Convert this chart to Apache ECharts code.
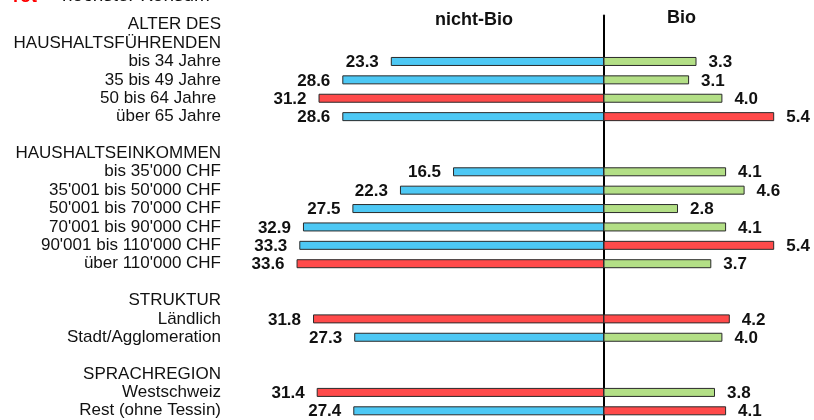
<!DOCTYPE html>
<html>
<head>
<meta charset="utf-8">
<script src="https://cdn.jsdelivr.net/npm/echarts@6/dist/echarts.min.js"></script>
<style>
  html, body { margin: 0; padding: 0; background: #fff; }
  #chart { width: 814px; height: 420px; }
</style>
</head>
<body>
<div id="chart"></div>
<script>
// Zeilen von oben nach unten (Überschriften und Leerzeilen ohne Werte)
const categories = [
  "ALTER DES", "HAUSHALTSFÜHRENDEN", "bis 34 Jahre", "35 bis 49 Jahre", "50 bis 64 Jahre ", "über 65 Jahre",
  "", "HAUSHALTSEINKOMMEN", "bis 35'000 CHF", "35'001 bis 50'000 CHF", "50'001 bis 70'000 CHF",
  "70'001 bis 90'000 CHF", "90'001 bis 110'000 CHF", "über 110'000 CHF",
  "", "STRUKTUR", "Ländlich", "Stadt/Agglomeration",
  "", "SPRACHREGION", "Westschweiz", "Rest (ohne Tessin)"
];
const nichtBio = [null, null, 23.3, 28.6, 31.2, 28.6, null, null, 16.5, 22.3, 27.5, 32.9, 33.3, 33.6,
  null, null, 31.8, 27.3, null, null, 31.4, 27.4];
const bio = [null, null, 3.3, 3.1, 4.0, 5.4, null, null, 4.1, 4.6, 2.8, 4.1, 5.4, 3.7,
  null, null, 4.2, 4.0, null, null, 3.8, 4.1];

const BLUE = "#4dc8f4", GREEN = "#b3df86", RED = "#ff4a4a";
const FONT = "'Liberation Sans', Arial, sans-serif";

// höchster Wert je Gruppe wird rot markiert
function colorize(values, base) {
  const out = values.map(() => base);
  let start = 0;
  for (let i = 0; i <= values.length; i++) {
    if (i === values.length || values[i] == null) {
      let best = -1;
      for (let j = start; j < i; j++) if (best < 0 || values[j] > values[best]) best = j;
      if (best >= 0) out[best] = RED;
      start = i + 1;
    }
  }
  return values.map((v, i) => v == null ? null : { value: v, itemStyle: { color: out[i] } });
}

const chart = echarts.init(document.getElementById("chart"));
const CENTER = 604;
const leftScale = 9.15, rightScale = 37;
const leftMax = 36, rightMin = 0.8, rightMax = 6;

const gridTop = 15.5, gridHeight = 405;

chart.setOption({
  animation: false,
  textStyle: { fontFamily: FONT },
  grid: [
    { left: CENTER - leftMax * leftScale, width: leftMax * leftScale, top: gridTop, height: gridHeight, containLabel: false },
    { left: CENTER, width: (rightMax - rightMin) * rightScale, top: gridTop, height: gridHeight, containLabel: false }
  ],
  xAxis: [
    { gridIndex: 0, type: "value", min: 0, max: leftMax, inverse: true, show: false },
    { gridIndex: 1, type: "value", min: rightMin, max: rightMax, show: false }
  ],
  yAxis: [
    {
      gridIndex: 0, type: "category", inverse: true, data: categories,
      axisLine: { show: false }, axisTick: { show: false }, splitLine: { show: false },
      axisLabel: { margin: CENTER - leftMax * leftScale - 221, color: "#111", fontSize: 17, fontFamily: FONT, interval: 0 }
    },
    {
      gridIndex: 1, type: "category", inverse: true, data: categories,
      axisLine: { show: true, lineStyle: { color: "#000", width: 2 } },
      axisTick: { show: false }, axisLabel: { show: false }, splitLine: { show: false }
    }
  ],
  graphic: [
    { type: "text", left: 476 - 41, top: 11, style: { text: "nicht-Bio", font: "bold 18px " + FONT, fill: "#111" } },
    { type: "text", left: 683 - 16, top: 9, style: { text: "Bio", font: "bold 18px " + FONT, fill: "#111" } },
    { type: "text", x: 13, y: -3, style: { text: "rot", font: "bold 18px " + FONT, fill: "#ff0000", verticalAlign: "middle" } },
    { type: "text", x: 62, y: -3.8, style: { text: "höchster Konsum", font: "19px " + FONT, fill: "#111", verticalAlign: "middle" } }
  ],
  series: [
    {
      type: "bar", name: "nicht-Bio", xAxisIndex: 0, yAxisIndex: 0,
      data: colorize(nichtBio, BLUE), barWidth: 9,
      itemStyle: { borderColor: "#2a2a2a", borderWidth: 1 },
      label: {
        show: true, position: "left", distance: 12, offset: [0, 1],
        fontSize: 17, fontWeight: "bold", color: "#111", fontFamily: FONT,
        formatter: p => p.value.toFixed(1)
      }
    },
    {
      type: "bar", name: "Bio", xAxisIndex: 1, yAxisIndex: 1,
      data: colorize(bio, GREEN), barWidth: 9,
      itemStyle: { borderColor: "#2a2a2a", borderWidth: 1 },
      label: {
        show: true, position: "right", distance: 12, offset: [0, 1],
        fontSize: 17, fontWeight: "bold", color: "#111", fontFamily: FONT,
        formatter: p => p.value.toFixed(1)
      }
    }
  ]
});
</script>
</body>
</html>
